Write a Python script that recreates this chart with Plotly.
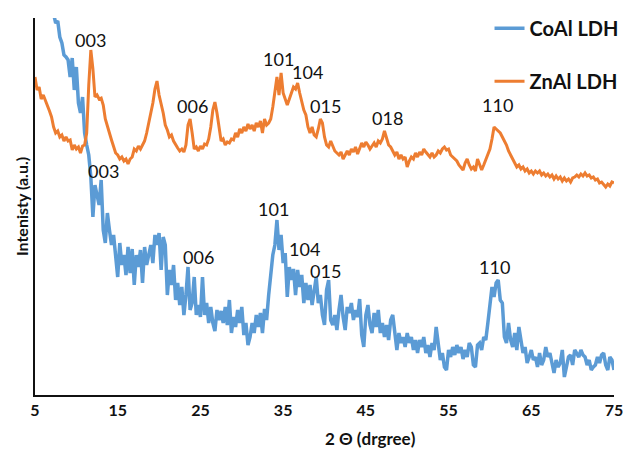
import plotly.graph_objects as go

# ZnAl LDH (orange): (2-theta, intensity a.u.)
znal_pts = [
    (5.0, 318), (5.25, 305), (5.5, 308), (5.75, 296), (6.0, 300), (6.25, 295), (6.5, 290), (6.75, 284),
    (7.0, 278), (7.25, 268), (7.5, 262), (7.75, 264), (8.0, 258), (8.25, 260), (8.5, 254), (8.75, 258),
    (9.0, 254), (9.25, 255), (9.5, 245), (9.75, 250), (10.0, 246), (10.25, 248), (10.5, 242), (10.75, 249),
    (11.0, 250), (11.25, 262), (11.5, 310), (11.75, 345), (12.0, 326), (12.25, 298), (12.5, 300), (12.75, 296),
    (13.0, 297), (13.25, 290), (13.5, 276), (13.75, 270), (14.0, 262), (14.25, 255), (14.5, 248), (14.75, 242),
    (15.0, 240), (15.25, 236), (15.5, 238), (15.75, 234), (16.0, 236), (16.25, 231), (16.5, 236), (16.75, 238),
    (17.0, 246), (17.25, 244), (17.5, 249), (17.75, 246), (18.0, 250), (18.25, 254), (18.5, 262), (18.75, 272),
    (19.0, 282), (19.25, 292), (19.5, 306), (19.75, 314), (20.0, 300), (20.25, 292), (20.5, 282), (20.75, 270),
    (21.0, 265), (21.25, 258), (21.5, 260), (21.75, 254), (22.0, 250), (22.25, 247), (22.5, 244), (22.75, 246),
    (23.0, 243), (23.25, 250), (23.5, 270), (23.75, 276), (24.0, 262), (24.25, 246), (24.5, 248), (24.75, 244),
    (25.0, 249), (25.25, 246), (25.5, 251), (25.75, 250), (26.0, 256), (26.25, 268), (26.5, 285), (26.75, 293),
    (27.0, 282), (27.25, 266), (27.5, 254), (27.75, 256), (28.0, 250), (28.25, 253), (28.5, 252), (28.75, 256),
    (29.0, 255), (29.25, 262), (29.5, 258), (29.75, 266), (30.0, 262), (30.25, 268), (30.5, 264), (30.75, 271),
    (31.0, 266), (31.25, 270), (31.5, 264), (31.75, 272), (32.0, 268), (32.25, 274), (32.5, 262), (32.75, 276),
    (33.0, 270), (33.25, 272), (33.5, 276), (33.75, 288), (34.0, 305), (34.25, 318), (34.5, 300), (34.75, 322),
    (35.0, 302), (35.25, 296), (35.5, 290), (35.75, 296), (36.0, 302), (36.25, 308), (36.5, 306), (36.75, 312),
    (37.0, 302), (37.25, 294), (37.5, 285), (37.75, 280), (38.0, 268), (38.25, 262), (38.5, 268), (38.75, 260),
    (39.0, 258), (39.25, 266), (39.5, 276), (39.75, 272), (40.0, 258), (40.25, 250), (40.5, 248), (40.75, 254),
    (41.0, 248), (41.25, 244), (41.5, 242), (41.75, 240), (42.0, 243), (42.25, 236), (42.5, 240), (42.75, 244),
    (43.0, 240), (43.25, 246), (43.5, 243), (43.75, 248), (44.0, 241), (44.25, 246), (44.5, 252), (44.75, 248),
    (45.0, 253), (45.25, 250), (45.5, 246), (45.75, 249), (46.0, 252), (46.25, 248), (46.5, 254), (46.75, 252),
    (47.0, 256), (47.25, 264), (47.5, 258), (47.75, 250), (48.0, 248), (48.25, 244), (48.5, 240), (48.75, 243),
    (49.0, 236), (49.25, 240), (49.5, 236), (49.75, 238), (50.0, 228), (50.25, 234), (50.5, 238), (50.75, 236),
    (51.0, 242), (51.25, 238), (51.5, 243), (51.75, 240), (52.0, 246), (52.25, 243), (52.5, 240), (52.75, 238),
    (53.0, 242), (53.25, 238), (53.5, 240), (53.75, 244), (54.0, 242), (54.25, 246), (54.5, 248), (54.75, 245),
    (55.0, 246), (55.25, 240), (55.5, 238), (55.75, 236), (56.0, 234), (56.25, 230), (56.5, 228), (56.75, 225),
    (57.0, 232), (57.25, 236), (57.5, 230), (57.75, 226), (58.0, 228), (58.25, 224), (58.5, 236), (58.75, 230),
    (59.0, 225), (59.25, 230), (59.5, 236), (59.75, 240), (60.0, 246), (60.25, 256), (60.5, 268), (60.75, 266),
    (61.0, 264), (61.25, 262), (61.5, 258), (61.75, 254), (62.0, 250), (62.25, 244), (62.5, 240), (62.75, 236),
    (63.0, 232), (63.25, 228), (63.5, 230), (63.75, 226), (64.0, 228), (64.25, 224), (64.5, 226), (64.75, 222),
    (65.0, 224), (65.25, 221), (65.5, 224), (65.75, 222), (66.0, 224), (66.25, 220), (66.5, 222), (66.75, 219),
    (67.0, 221), (67.25, 218), (67.5, 220), (67.75, 216), (68.0, 219), (68.25, 216), (68.5, 218), (68.75, 214),
    (69.0, 217), (69.25, 214), (69.5, 216), (69.75, 213), (70.0, 217), (70.25, 218), (70.5, 220), (70.75, 218),
    (71.0, 221), (71.25, 219), (71.5, 222), (71.75, 219), (72.0, 220), (72.25, 217), (72.5, 218), (72.75, 215),
    (73.0, 216), (73.25, 212), (73.5, 213), (73.75, 210), (74.0, 208), (74.25, 211), (74.5, 209), (74.75, 213),
    (75.0, 212),
]

# CoAl LDH (blue): (2-theta, intensity a.u.)
coal_pts = [
    (7.0, 390), (7.25, 380), (7.5, 372), (7.75, 374), (8.0, 358), (8.25, 352), (8.5, 340), (8.75, 338),
    (9.0, 335), (9.25, 318), (9.5, 337), (9.75, 305), (10.0, 328), (10.25, 292), (10.5, 282), (10.75, 298),
    (11.0, 262), (11.25, 250), (11.5, 240), (11.75, 218), (12.0, 178), (12.25, 210), (12.5, 200), (12.75, 190),
    (13.0, 215), (13.25, 165), (13.5, 152), (13.75, 182), (14.0, 165), (14.25, 150), (14.5, 160), (14.75, 140),
    (15.0, 118), (15.25, 152), (15.5, 130), (15.75, 140), (16.0, 120), (16.25, 148), (16.5, 122), (16.75, 146),
    (17.0, 110), (17.25, 140), (17.5, 128), (17.75, 145), (18.0, 112), (18.25, 148), (18.5, 130), (18.75, 140),
    (19.0, 150), (19.25, 132), (19.5, 160), (19.75, 150), (20.0, 162), (20.25, 125), (20.5, 158), (20.75, 150),
    (21.0, 100), (21.25, 125), (21.5, 110), (21.75, 130), (22.0, 95), (22.25, 112), (22.5, 90), (22.75, 108),
    (23.0, 80), (23.25, 100), (23.5, 128), (23.75, 85), (24.0, 92), (24.25, 118), (24.5, 80), (24.75, 90),
    (25.0, 78), (25.25, 118), (25.5, 80), (25.75, 92), (26.0, 72), (26.25, 88), (26.5, 72), (26.75, 64),
    (27.0, 85), (27.25, 75), (27.5, 84), (27.75, 72), (28.0, 88), (28.25, 70), (28.5, 95), (28.75, 62),
    (29.0, 78), (29.25, 68), (29.5, 85), (29.75, 72), (30.0, 88), (30.25, 60), (30.5, 72), (30.75, 50),
    (31.0, 58), (31.25, 72), (31.5, 62), (31.75, 80), (32.0, 68), (32.25, 82), (32.5, 62), (32.75, 86),
    (33.0, 75), (33.25, 100), (33.5, 118), (33.75, 140), (34.0, 150), (34.25, 175), (34.5, 145), (34.75, 160),
    (35.0, 132), (35.25, 142), (35.5, 98), (35.75, 128), (36.0, 115), (36.25, 126), (36.5, 100), (36.75, 125),
    (37.0, 108), (37.25, 120), (37.5, 92), (37.75, 112), (38.0, 95), (38.25, 110), (38.5, 90), (38.75, 105),
    (39.0, 118), (39.25, 92), (39.5, 100), (39.75, 80), (40.0, 70), (40.25, 105), (40.5, 115), (40.75, 75),
    (41.0, 70), (41.25, 80), (41.5, 65), (41.75, 85), (42.0, 100), (42.25, 78), (42.5, 65), (42.75, 88),
    (43.0, 82), (43.25, 92), (43.5, 75), (43.75, 85), (44.0, 78), (44.25, 96), (44.5, 60), (44.75, 48),
    (45.0, 80), (45.25, 90), (45.5, 70), (45.75, 62), (46.0, 82), (46.25, 68), (46.5, 85), (46.75, 62),
    (47.0, 72), (47.25, 58), (47.5, 70), (47.75, 55), (48.0, 75), (48.25, 80), (48.5, 58), (48.75, 45),
    (49.0, 62), (49.25, 52), (49.5, 58), (49.75, 48), (50.0, 62), (50.25, 52), (50.5, 58), (50.75, 45),
    (51.0, 55), (51.25, 42), (51.5, 55), (51.75, 48), (52.0, 58), (52.25, 42), (52.5, 50), (52.75, 38),
    (53.0, 52), (53.25, 45), (53.5, 68), (53.75, 48), (54.0, 35), (54.25, 42), (54.5, 28), (54.75, 25),
    (55.0, 45), (55.25, 38), (55.5, 48), (55.75, 40), (56.0, 50), (56.25, 42), (56.5, 48), (56.75, 36),
    (57.0, 45), (57.25, 38), (57.5, 52), (57.75, 48), (58.0, 30), (58.25, 28), (58.5, 50), (58.75, 52),
    (59.0, 45), (59.25, 58), (59.5, 55), (59.75, 72), (60.0, 88), (60.25, 108), (60.5, 98), (60.75, 112),
    (61.0, 115), (61.25, 95), (61.5, 92), (61.75, 58), (62.0, 52), (62.25, 72), (62.5, 55), (62.75, 48),
    (63.0, 62), (63.25, 45), (63.5, 68), (63.75, 52), (64.0, 42), (64.25, 48), (64.5, 32), (64.75, 38),
    (65.0, 45), (65.25, 35), (65.5, 38), (65.75, 28), (66.0, 42), (66.25, 30), (66.5, 35), (66.75, 48),
    (67.0, 38), (67.25, 42), (67.5, 30), (67.75, 22), (68.0, 35), (68.25, 28), (68.5, 32), (68.75, 45),
    (69.0, 18), (69.25, 30), (69.5, 38), (69.75, 40), (70.0, 30), (70.25, 45), (70.5, 42), (70.75, 38),
    (71.0, 45), (71.25, 40), (71.5, 38), (71.75, 30), (72.0, 35), (72.25, 25), (72.5, 28), (72.75, 30),
    (73.0, 38), (73.25, 32), (73.5, 40), (73.75, 42), (74.0, 30), (74.25, 25), (74.5, 38), (74.75, 35),
    (75.0, 25),
]

znal_x = [p[0] for p in znal_pts]
znal_y = [p[1] for p in znal_pts]
coal_x = [p[0] for p in coal_pts]
coal_y = [p[1] for p in coal_pts]

# peak labels
zn_lab_x = [11.65, 24.1, 34.4, 37.9, 40.1, 47.6, 60.9]
zn_lab_y = [355, 289, 336, 323, 289, 277, 290]
zn_labels = ["003", "006", "101", "104", "015", "018", "110"]
co_lab_x = [13.3, 24.8, 33.8, 37.6, 40.1, 60.5]
co_lab_y = [224, 138, 186, 146, 124, 128]
co_labels = ["003", "006", "101", "104", "015", "110"]

x_ticks = [5, 15, 25, 35, 45, 55, 65, 75]

fig = go.Figure()
fig.add_trace(go.Scatter(x=coal_x, y=coal_y, mode="lines", name="CoAl LDH",
                         line=dict(color="#5B9BD5", width=3.5), legendgroup="a"))
fig.add_trace(go.Scatter(x=znal_x, y=znal_y, mode="lines", name="ZnAl LDH",
                         line=dict(color="#ED7D31", width=3), legendgroup="b"))

for xs, ys, ls in [(zn_lab_x, zn_lab_y, zn_labels), (co_lab_x, co_lab_y, co_labels)]:
    for x, y, t in zip(xs, ys, ls):
        fig.add_annotation(x=x, y=y, text=t, showarrow=False,
                           font=dict(family="Lato", size=18, color="#111"))

fig.add_annotation(xref="paper", yref="paper", x=0.58, y=-0.115, yanchor="middle",
                   text="2 Θ (drgree)", showarrow=False,
                   font=dict(family="Lato", size=17, color="#111", weight="bold"))

fig.update_layout(
    width=628, height=454,
    margin=dict(l=35, r=14, t=18, b=59, autoexpand=False),
    paper_bgcolor="white", plot_bgcolor="white",
    showlegend=True,
    legend=dict(xref="container", yref="container", x=0.7795, y=0.981,
                xanchor="left", yanchor="top", tracegroupgap=24,
                font=dict(family="Lato", size=20, color="#111", weight="bold"),
                bgcolor="rgba(0,0,0,0)"),
    xaxis=dict(range=[5, 75], tickvals=x_ticks, ticktext=[str(v) for v in x_ticks],
               showgrid=False, zeroline=False, showline=True, linecolor="#111", linewidth=2,
               ticks="", tickfont=dict(family="Lato", size=16, color="#111", weight="bold")),
    yaxis=dict(range=[0, 377], showticklabels=False, showgrid=False, zeroline=False,
               showline=True, linecolor="#111", linewidth=2, ticks="",
               title=dict(text="Intenisty (a.u.)", standoff=0,
                          font=dict(family="Lato", size=16, color="#111", weight="bold"))),
)

fig.write_html("out.html")
